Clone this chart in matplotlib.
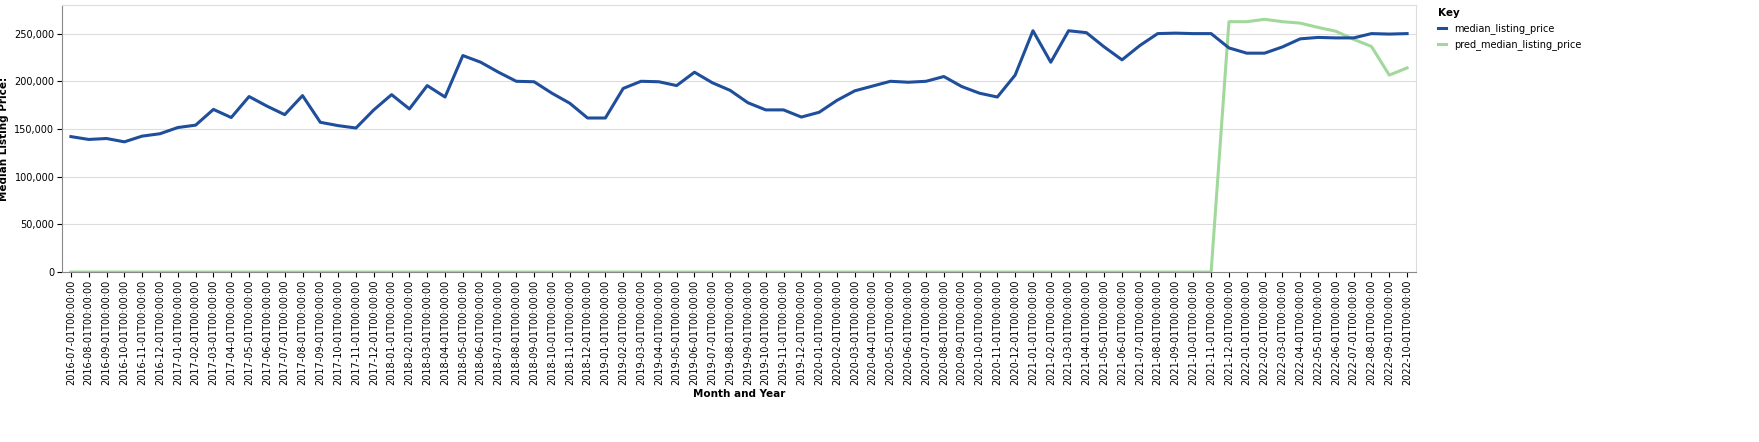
import matplotlib
matplotlib.use("Agg")
import matplotlib.pyplot as plt
from matplotlib.ticker import FuncFormatter
import pandas as pd

dates = [d.strftime("%Y-%m-%dT00:00:00") for d in pd.date_range("2016-07-01", "2022-10-01", freq="MS")]
median_listing_price = [
    142000, 139000, 140000, 136500, 142500, 145000,
    151500, 154000, 170500, 162000, 184000, 174000, 165000, 185000, 157000, 153500, 151000, 170000,
    186000, 171000, 195500, 183500, 227000, 220000, 209500, 200000, 199500, 187500, 177000, 161500,
    161500, 192500, 200000, 199500, 195500, 209500, 198500, 190500, 177500, 170000, 170000, 162500,
    167500, 180000, 190000, 195000, 200000, 199000, 200000, 205000, 194500, 187500, 183500, 206500,
    253000, 220000, 253000, 251000, 236000, 222500, 237500, 250000, 250500, 250000, 250000, 235000,
    229500, 229500, 236000, 244500, 246000, 245500, 245500, 250000, 249500, 250000]
pred_median_listing_price = [0] * 65 + [
    262500, 262500, 265000, 262500, 261000, 256500, 252500, 244000, 236500, 206500, 214000]

fig = plt.figure(figsize=(17.59, 4.42), dpi=100)
ax = fig.add_axes([62/1759, 1-272/442, (1416-62)/1759, (272-5)/442])
x = list(range(len(dates)))
ax.plot(x, median_listing_price, color="#1f4e9a", lw=2.2, label="median_listing_price", zorder=3)
ax.plot(x, pred_median_listing_price, color="#a1d99b", lw=2.2, label="pred_median_listing_price", zorder=2)
ax.set_xlim(-0.5, len(dates) - 0.5)
ax.set_ylim(0, 280000)
ax.set_yticks(range(0, 250001, 50000))
ax.yaxis.set_major_formatter(FuncFormatter(lambda v, p: f"{int(v):,}"))
ax.set_xticks(x)
ax.set_xticklabels(dates, rotation=90, fontsize=7)
ax.tick_params(axis="y", labelsize=7, pad=2)
ax.tick_params(axis="x", pad=2)
ax.grid(axis="y", color="#dddddd", lw=0.8)
ax.set_axisbelow(True)
for s in ["top", "right"]:
    ax.spines[s].set_color("#dddddd")
for s in ["left", "bottom"]:
    ax.spines[s].set_color("#888888")
ax.set_xlabel("Month and Year", fontsize=7.5, fontweight="bold", labelpad=3)
ax.set_ylabel("Median Listing Price:", fontsize=7.5, fontweight="bold", labelpad=4)
leg = ax.legend(loc="upper left", bbox_to_anchor=(1.01, 1.02), frameon=False, fontsize=7,
                title="Key", handlelength=0.8, alignment="left")
leg.get_title().set_fontweight("bold")
leg.get_title().set_fontsize(7.5)
fig.savefig("out.png", dpi=100)
